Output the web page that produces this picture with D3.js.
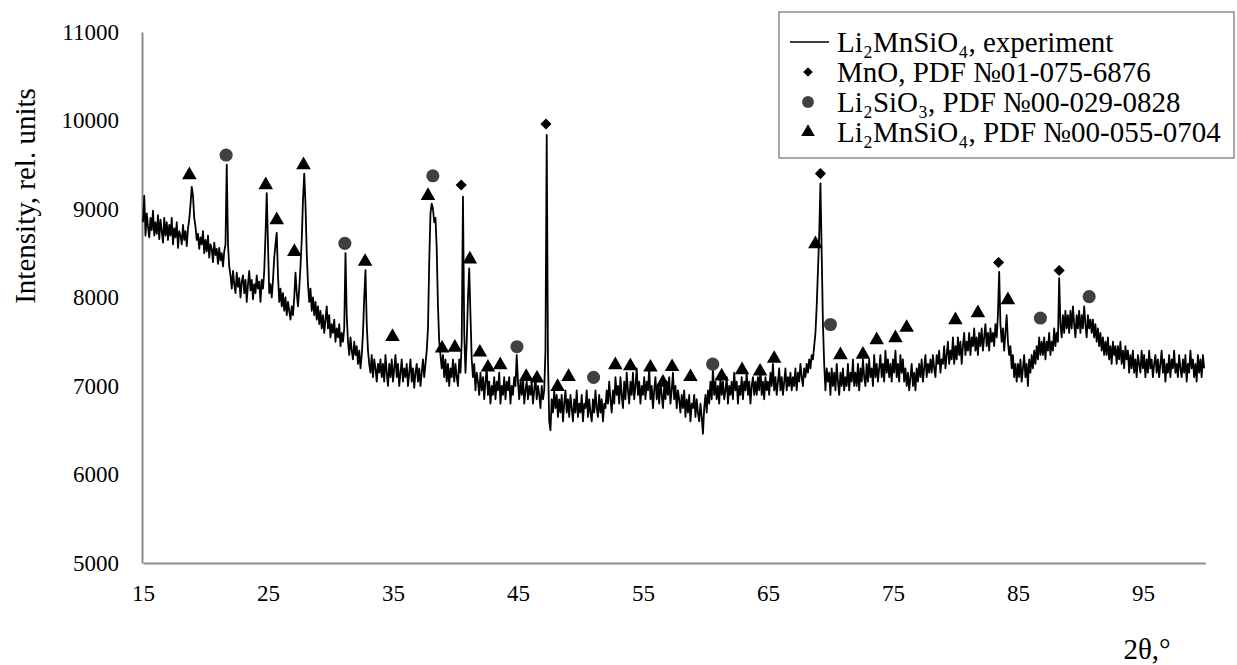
<!DOCTYPE html>
<html>
<head>
<meta charset="utf-8">
<script src="https://cdn.jsdelivr.net/npm/d3@7"></script>
<style>
  body { margin: 0; background: #fff; }
  text { font-family: "Liberation Serif", "Times New Roman", serif; fill: #000; }
</style>
</head>
<body>
<div class="chart"></div>
<script>
// XRD pattern, 2theta from 15.0 with a 0.1 degree step (one row = one degree)
var thetaStart = 15;
var thetaStep = 0.1;
var intensity = [
  8850, 9150, 8700, 8950, 8800, 8680, 8900, 8760, 8980, 8700,
  8850, 8720, 8930, 8660, 8880, 8750, 8620, 8900, 8700, 8850,
  8650, 8820, 8700, 8900, 8600, 8780, 8680, 8850, 8560, 8750,
  8700, 8600, 8820, 8650, 8750, 8580, 8780, 8880, 9050, 9250,
  9150, 8900, 8800, 8650, 8720, 8550, 8680, 8600, 8750, 8500,
  8650, 8520, 8700, 8450, 8600, 8550, 8400, 8620, 8480, 8550,
  8380, 8560, 8420, 8500, 8350, 8520, 8600, 9500, 8600, 8350,
  8250, 8100, 8300, 8150, 8050, 8280, 8120, 8220, 8000, 8180,
  8250, 8050, 8200, 7950, 8150, 8300, 8080, 8200, 7980, 8150,
  8050, 8250, 8100, 8180, 7950, 8200, 8100, 8300, 8700, 9180,
  8600, 8050, 8150, 8000, 8200, 8450, 8600, 8730, 8250, 7950,
  8100, 7900, 8050, 7850, 8000, 7800, 7950, 7850, 7750, 7900,
  7800, 8000, 8280, 8050, 7900, 8100, 8350, 8650, 9100, 9400,
  9050, 8500, 8150, 7950, 8100, 7850, 8000, 7800, 7950, 7750,
  7900, 7700, 7850, 7650, 7800, 7600, 7750, 7900, 7650, 7800,
  7550, 7700, 7600, 7750, 7500, 7650, 7550, 7700, 7450, 7600,
  7500, 7650, 8500, 7800, 7500, 7350, 7550, 7400, 7300, 7500,
  7350, 7450, 7250, 7400, 7200, 7350, 7600, 8000, 8310, 7700,
  7400, 7250, 7150, 7350, 7100, 7300, 7200, 7050, 7250, 7150,
  7300, 7100, 7250, 7050, 7350, 7150, 7000, 7250, 7100, 7300,
  7050, 7200, 7350, 7100, 7250, 7000, 7150, 7300, 7050, 7200,
  7100, 7250, 7000, 7150, 7300, 7050, 7200, 6980, 7150, 7250,
  7050, 7200, 7000, 7150, 7300, 7100, 7250, 7400, 7650, 8400,
  8950, 9060, 9000, 8850, 8900, 8550, 7900, 7500, 7350, 7200,
  7350, 7100, 7300, 7050, 7250, 7000, 7200, 7100, 7300, 7050,
  7250, 7100, 7000, 7300, 7150, 7500, 9140, 7600, 7150, 7500,
  8000, 8330, 7800, 7300, 7100, 7250, 6950, 7150, 7050, 6900,
  7150, 6950, 7100, 6850, 7050, 7200, 6900, 7050, 6800, 7000,
  6900, 7100, 6850, 7050, 6950, 7150, 6800, 7000, 6900, 7100,
  6850, 7050, 6950, 7100, 6800, 7000, 6900, 7100, 7000, 7350,
  7050, 6850, 7050, 6900, 7100, 6800, 6950, 7050, 6850, 7000,
  6900, 7050, 6800, 6950, 7100, 6850, 7000, 6900, 6750, 7000,
  6850, 6950, 7400, 9836, 7300, 6600, 6500, 6850, 6700, 6950,
  6750, 6900, 6650, 6850, 6700, 6900, 6600, 6800, 6950, 6700,
  6850, 6650, 6900, 6750, 6600, 6850, 6700, 6950, 6650, 6800,
  6700, 6900, 6600, 6800, 6750, 6950, 6650, 6850, 6700, 6600,
  6850, 6700, 6950, 6750, 6650, 6900, 6700, 6850, 6600, 6800,
  6750, 6950, 6800, 7050, 6850, 6700, 6950, 6800, 7100, 6900,
  7000, 6800, 7100, 6900, 6750, 7050, 6850, 7150, 6950, 6800,
  7050, 6900, 7150, 6850, 7000, 7200, 6900, 7050, 6800, 7000,
  6900, 7100, 6850, 7050, 6950, 7200, 6850, 7000, 6750, 6950,
  7100, 6850, 7000, 6800, 7050, 6900, 6750, 7000, 6850, 7050,
  6900, 7100, 6800, 6950, 7150, 6850, 7000, 6750, 6950, 6850,
  6700, 6900, 6750, 6950, 6650, 6850, 6700, 6900, 6600, 6800,
  6750, 6900, 6650, 6850, 6700, 6600, 6800, 6650, 6460, 6750,
  6900, 6700, 6950, 6800, 7050, 6850, 7200, 6900, 7050, 6850,
  7000, 6800, 7100, 6900, 7050, 6850, 6950, 7100, 6800, 7000,
  6900, 7050, 6850, 7150, 6950, 7050, 6800, 7000, 6900, 7100,
  6850, 7050, 6950, 7150, 6900, 7050, 6800, 7000, 7100, 6900,
  7050, 6900, 7100, 6950, 7200, 6900, 7050, 6850, 7100, 6950,
  7050, 6900, 7150, 7000, 7250, 6950, 7100, 6900, 7050, 7200,
  6950, 7100, 6900, 7050, 7200, 6950, 7100, 7000, 7150, 6950,
  7100, 7000, 7200, 6950, 7150, 7050, 7250, 7100, 7000, 7200,
  7100, 7250, 7150, 7300, 7200, 7350, 7300, 7450, 7600, 7900,
  8300, 8700, 9290, 8500, 7700, 7250, 6950, 7200, 7050, 7150,
  6900, 7200, 7000, 7150, 6950, 7250, 7050, 6900, 7150, 7000,
  7200, 6950, 7100, 7000, 7250, 6950, 7150, 7050, 7300, 7000,
  7150, 7000, 7250, 6950, 7200, 7050, 7300, 7100, 7000, 7250,
  7050, 7300, 7100, 7200, 7000, 7350, 7100, 7250, 7050, 7200,
  7350, 7100, 7250, 7050, 7400, 7150, 7300, 7100, 7250, 7050,
  7300, 7150, 7400, 7100, 7250, 7050, 7350, 7150, 7300, 7050,
  7200, 7000, 7150, 6950, 7100, 7250, 7000, 7150, 6950, 7200,
  7050, 7250, 7100, 7300, 7050, 7200, 7350, 7100, 7250, 7150,
  7300, 7150, 7350, 7200, 7100, 7350, 7250, 7400, 7150, 7300,
  7250, 7450, 7200, 7350, 7500, 7250, 7400, 7300, 7550, 7250,
  7450, 7300, 7550, 7350, 7500, 7250, 7450, 7600, 7350, 7500,
  7400, 7600, 7350, 7550, 7450, 7650, 7400, 7550, 7350, 7600,
  7450, 7650, 7400, 7550, 7700, 7450, 7600, 7400, 7650, 7500,
  7600, 7450, 7700, 7550, 7800, 8290, 7700, 7500, 7650, 7400,
  7600, 7800, 7500, 7350, 7450, 7200, 7350, 7100, 7250, 7050,
  7250, 7100, 7300, 7050, 7200, 7350, 7100, 7250, 7000, 7300,
  7150, 7350, 7200, 7400, 7250, 7450, 7300, 7550, 7350, 7500,
  7350, 7550, 7300, 7500, 7400, 7600, 7350, 7500, 7400, 7650,
  7450, 7600, 7500, 8220, 7700, 7550, 7800, 7600, 7850, 7650,
  7800, 7600, 7850, 7650, 7900, 7700, 7550, 7800, 7650, 7850,
  7600, 7800, 7650, 7900, 7700, 7550, 7800, 7650, 7750, 7600,
  7750, 7550, 7700, 7500, 7650, 7450, 7600, 7400, 7550, 7350,
  7500, 7350, 7550, 7300, 7450, 7250, 7500, 7350, 7450, 7250,
  7450, 7300, 7500, 7250, 7400, 7200, 7450, 7300, 7400, 7150,
  7350, 7200, 7400, 7150, 7300, 7100, 7350, 7250, 7150, 7400,
  7200, 7350, 7100, 7300, 7150, 7400, 7200, 7300, 7100, 7250,
  7350, 7150, 7300, 7100, 7250, 7400, 7150, 7300, 7050, 7250,
  7150, 7350, 7100, 7300, 7200, 7400, 7150, 7250, 7100, 7350,
  7200, 7100, 7300, 7150, 7350, 7050, 7250, 7150, 7400, 7200,
  7300, 7100, 7250, 7050, 7350, 7150, 7300, 7100, 7350, 7200
];

// reference phase markers (position, marker height)
var mnoTheta = [40.46, 47.24, 69.2, 83.45, 88.3];
var mnoY = [9271, 9960, 9400, 8395, 8305];

var silicateTheta = [21.65, 31.15, 38.19, 44.92, 51.05, 60.58, 70.0, 86.8, 90.7];
var silicateY = [9610, 8612, 9375, 7444, 7098, 7247, 7695, 7768, 8010];

var lmsTheta = [18.71, 24.82, 25.7, 27.11, 27.84, 32.77, 34.96, 37.8, 38.93, 39.95,
  41.15, 41.95, 42.6, 43.58, 45.66, 46.52, 48.17, 49.05, 52.79, 53.99,
  55.6, 56.6, 57.33, 58.8, 61.3, 62.93, 64.37, 65.5, 68.8, 70.8,
  72.6, 73.7, 75.2, 76.1, 80.0, 81.8, 84.2];
var lmsY = [9384, 9271, 8876, 8517, 9497, 8405, 7557, 9150, 7426, 7435,
  8433, 7380, 7210, 7237, 7105, 7087, 6992, 7105, 7237, 7226,
  7210, 7040, 7217, 7103, 7110, 7181, 7165, 7310, 8605, 7350,
  7356, 7520, 7542, 7660, 7746, 7825, 7972];

var xTicks = [15, 25, 35, 45, 55, 65, 75, 85, 95];
var yTicks = [5000, 6000, 7000, 8000, 9000, 10000, 11000];

var legendLabels = [
  "Li₂MnSiO₄, experiment",
  "MnO, PDF №01-075-6876",
  "Li₂SiO₃, PDF №00-029-0828",
  "Li₂MnSiO₄, PDF №00-055-0704"
];

var svgWidth = 1237;
var svgHeight = 665;

var svg = d3.select(".chart")
  .append("svg")
  .attr("width", svgWidth)
  .attr("height", svgHeight);

var xScale = d3.scaleLinear().domain([15, 100]).range([143, 1205.4]);
var yScale = d3.scaleLinear().domain([5000, 11000]).range([563, 32]);

// axes, no tick marks, grey lines
var bottomAxis = d3.axisBottom(xScale).tickValues(xTicks).tickSize(0).tickPadding(22).tickFormat(d3.format("d"));
var leftAxis = d3.axisLeft(yScale).tickValues(yTicks).tickSize(0).tickPadding(23).tickFormat(d3.format("d"));

var gx = svg.append("g").attr("transform", "translate(0,563)").call(bottomAxis);
var gy = svg.append("g").attr("transform", "translate(142,0)").call(leftAxis);

[gx, gy].forEach(function(g) {
  g.select(".domain").attr("stroke", "#8c8c8c").attr("stroke-width", 2);
  g.selectAll("text")
    .style("font-family", "Liberation Serif, Times New Roman, serif")
    .style("font-size", "23px")
    .attr("fill", "#000");
});

// spectrum
var points = intensity.map(function(v, i) {
  return [thetaStart + i * thetaStep, v];
});

var line = d3.line()
  .x(d => xScale(d[0]))
  .y(d => yScale(d[1]));

svg.append("path")
  .datum(points)
  .attr("d", line)
  .attr("fill", "none")
  .attr("stroke", "#000")
  .attr("stroke-width", 1.8)
  .attr("stroke-linejoin", "round");

// markers
var triPath = d3.symbol().type(d3.symbolTriangle).size(92)();
var circPath = d3.symbol().type(d3.symbolCircle).size(135)();
var diaPath = d3.symbol().type(d3.symbolSquare).size(62)();

svg.append("g").selectAll("path")
  .data(lmsTheta)
  .enter()
  .append("path")
  .attr("d", triPath)
  .attr("fill", "#000")
  .attr("transform", (d, i) => `translate(${xScale(d)},${yScale(lmsY[i])})`);

svg.append("g").selectAll("path")
  .data(silicateTheta)
  .enter()
  .append("path")
  .attr("d", circPath)
  .attr("fill", "#404040")
  .attr("transform", (d, i) => `translate(${xScale(d)},${yScale(silicateY[i])})`);

svg.append("g").selectAll("path")
  .data(mnoTheta)
  .enter()
  .append("path")
  .attr("d", diaPath)
  .attr("fill", "#000")
  .attr("transform", (d, i) => `translate(${xScale(d)},${yScale(mnoY[i])}) rotate(45)`);

// axis titles
svg.append("text")
  .attr("transform", "translate(35,196) rotate(-90)")
  .attr("text-anchor", "middle")
  .style("font-size", "29px")
  .text("Intensity, rel. units");

svg.append("text")
  .attr("x", 1147)
  .attr("y", 659)
  .attr("text-anchor", "middle")
  .style("font-size", "29px")
  .text("2θ,°");

// legend
var legend = svg.append("g");
legend.append("rect")
  .attr("x", 779).attr("y", 12)
  .attr("width", 455).attr("height", 146)
  .attr("fill", "#fff")
  .attr("stroke", "#8c8c8c")
  .attr("stroke-width", 1.5);

legend.append("line")
  .attr("x1", 790).attr("x2", 829)
  .attr("y1", 42).attr("y2", 42)
  .attr("stroke", "#000").attr("stroke-width", 1.3);

legend.append("path")
  .attr("d", d3.symbol().type(d3.symbolSquare).size(46)())
  .attr("transform", "translate(808,72) rotate(45)")
  .attr("fill", "#000");
legend.append("path")
  .attr("d", d3.symbol().type(d3.symbolCircle).size(110)())
  .attr("transform", "translate(808,102)")
  .attr("fill", "#404040");
legend.append("path")
  .attr("d", d3.symbol().type(d3.symbolTriangle).size(80)())
  .attr("transform", "translate(808,132)")
  .attr("fill", "#000");

legend.selectAll("text.lbl")
  .data(legendLabels)
  .enter()
  .append("text")
  .attr("class", "lbl")
  .attr("x", 837)
  .attr("y", (d, i) => 52 + i * 30)
  .style("font-size", "29px")
  .text(d => d);
</script>
</body>
</html>
